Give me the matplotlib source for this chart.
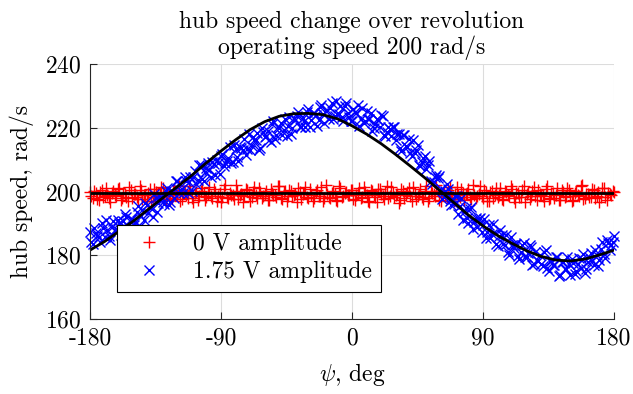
import matplotlib
matplotlib.use("Agg")
import matplotlib.pyplot as plt
import numpy as np

plt.rcParams['font.family'] = ['cmr10', 'DejaVu Serif']
plt.rcParams['mathtext.fontset'] = 'cm'
plt.rcParams['axes.formatter.use_mathtext'] = True

# azimuth of each sample, deg: two passes, even and odd degrees
psi_a = np.arange(-180, 181, 2)
psi_b = np.arange(-179, 180, 2)

# 0 V amplitude, hub speed rad/s
speed_0v_a = [
    199.9, 198.0, 199.4, 197.4, 200.6, 198.6, 198.9, 196.8, 200.2, 198.7,
    201.0, 198.1, 199.2, 197.1, 200.4, 199.3, 198.3, 201.6, 197.7, 198.9,
    199.6, 197.0, 200.7, 198.5, 199.1, 201.0, 197.5, 199.5, 198.0, 200.5,
    198.8, 196.9, 200.0, 199.0, 201.8, 197.9, 199.4, 197.3, 200.3, 199.2,
    198.2, 201.4, 197.8, 199.7, 198.7, 196.7, 200.9, 198.4, 199.5, 198.9,
    202.0, 197.5, 199.2, 198.6, 200.5, 197.0, 199.8, 198.8, 201.1, 198.0,
    199.2, 197.2, 200.8, 199.0, 198.3, 201.7, 197.6, 200.1, 198.5, 200.2,
    199.0, 196.6, 199.9, 199.3, 201.5, 197.8, 198.9, 198.1, 200.6, 198.7,
    197.1, 202.0, 198.4, 199.6, 199.1, 197.0, 201.1, 198.6, 199.9, 199.0,
    200.4, 197.4, 199.4, 197.9, 201.3, 198.8, 196.8, 200.2, 198.2, 200.7,
    199.3, 197.7, 201.7, 198.7, 199.5, 198.9, 196.5, 200.8, 198.1, 199.8,
    198.7, 201.3, 197.6, 199.3, 198.4, 200.3, 197.0, 199.7, 199.1, 201.9,
    197.3, 199.2, 198.5, 200.5, 198.8, 197.1, 201.5, 198.2, 199.6, 199.1,
    200.9, 197.5, 198.9, 198.6, 201.6, 197.9, 199.9, 196.9, 200.2, 199.0,
    198.4, 201.2, 197.3, 199.8, 198.7, 200.8, 196.7, 199.4, 198.3, 201.6,
    199.2, 197.6, 200.1, 198.7, 200.5, 199.0, 197.0, 201.8, 198.0, 199.6,
    198.8, 197.4, 200.6, 198.4, 201.0, 199.3, 197.2, 200.0, 198.6, 201.9,
    197.8, 199.1, 198.2, 200.4, 198.7, 196.8, 201.2, 198.3, 199.5, 198.9,
    199.8,
]
speed_0v_b = [
    198.6, 200.3, 197.5, 199.8, 198.2, 201.2, 197.9, 199.4, 198.8, 200.9,
    197.2, 199.6, 198.4, 201.5, 198.0, 199.1, 197.6, 200.4, 198.9, 196.9,
    200.7, 198.3, 199.7, 197.8, 201.3, 198.5, 199.2, 197.3, 200.1, 198.9,
    201.7, 197.7, 199.5, 198.1, 200.6, 196.8, 199.9, 198.6, 201.0, 197.4,
    199.3, 198.7, 200.8, 197.1, 199.6, 198.3, 201.9, 198.0, 199.0, 197.5,
    200.3, 198.8, 196.7, 200.9, 199.2, 198.2, 201.4, 197.9, 199.7, 198.5,
    200.0, 197.3, 199.4, 198.9, 201.6, 198.1, 199.8, 197.0, 200.5, 198.6,
    199.1, 201.1, 197.6, 199.5, 198.3, 200.7, 196.9, 199.9, 198.7, 201.3,
    197.8, 199.3, 198.0, 200.2, 197.2, 201.8, 198.4, 199.6, 198.8, 200.6,
    197.5, 199.0, 201.2, 198.2, 199.7, 197.1, 200.4, 198.9, 196.6, 200.9,
    198.6, 199.8, 197.9, 201.5, 198.3, 199.2, 197.4, 200.1, 198.8, 201.0,
    197.0, 199.5, 198.5, 200.7, 197.7, 201.7, 198.1, 199.4, 198.7, 200.3,
    196.9, 199.9, 198.2, 201.4, 197.6, 199.1, 198.9, 200.8, 197.3, 199.6,
    198.4, 202.0, 197.8, 199.3, 198.6, 200.5, 197.1, 199.7, 198.0, 201.1,
    199.0, 197.5, 200.2, 198.8, 201.6, 197.9, 199.4, 198.3, 200.6, 196.8,
    199.8, 198.5, 201.3, 197.4, 199.2, 198.7, 200.9, 197.7, 199.5, 198.1,
    201.0, 197.2, 199.9, 198.6, 200.4, 197.0, 199.6, 198.9, 201.8, 197.6,
    199.1, 198.4, 200.7, 197.8, 199.7, 198.2, 201.2, 197.3, 199.3, 200.1,
]

# 1.75 V amplitude, hub speed rad/s
speed_175v_a = [
    187.3, 183.5, 186.9, 185.8, 190.2, 185.8, 188.0, 184.9, 190.6, 188.2,
    190.1, 186.7, 192.9, 189.3, 191.4, 189.5, 193.7, 189.2, 194.2, 196.4,
    193.1, 194.8, 199.1, 193.7, 198.2, 196.7, 200.1, 195.7, 200.0, 198.0,
    203.2, 200.5, 199.5, 203.3, 203.0, 200.2, 206.5, 203.6, 208.3, 203.4,
    207.3, 206.8, 209.4, 205.1, 209.0, 211.1, 208.0, 209.5, 214.0, 209.1,
    213.4, 209.5, 213.5, 216.4, 213.4, 212.9, 217.2, 216.0, 213.1, 219.8,
    217.1, 219.1, 215.6, 222.0, 217.6, 220.0, 217.7, 222.6, 220.6, 218.1,
    223.0, 223.8, 220.3, 223.2, 220.1, 226.0, 222.4, 224.6, 220.6, 226.6,
    224.2, 225.3, 222.7, 227.7, 223.6, 224.4, 226.7, 222.0, 227.8, 223.5,
    222.1, 224.8, 227.0, 222.7, 221.6, 225.2, 222.8, 219.0, 221.3, 222.5,
    223.9, 217.6, 218.6, 219.6, 220.2, 216.0, 218.0, 212.7, 217.8, 214.1,
    212.1, 216.0, 213.0, 208.2, 209.1, 211.0, 208.3, 203.2, 202.9, 205.2,
    204.8, 197.6, 200.0, 200.7, 195.9, 196.0, 198.7, 195.5, 191.2, 194.8,
    190.2, 195.0, 190.4, 188.8, 191.8, 189.5, 185.4, 189.5, 186.7, 187.0,
    183.0, 188.0, 183.4, 186.4, 180.2, 183.1, 183.5, 179.8, 180.9, 183.7,
    179.4, 183.2, 176.9, 181.1, 178.3, 177.2, 181.1, 175.9, 178.3, 177.0,
    179.4, 173.6, 177.8, 175.8, 179.6, 173.9, 177.5, 175.1, 179.1, 178.8,
    174.5, 177.9, 180.8, 176.8, 180.0, 178.5, 184.2, 179.1, 183.9, 183.2,
    186.1,
]
speed_175v_b = [
    184.2, 188.7, 186.1, 184.0, 188.5, 191.0, 185.9, 188.9, 187.6, 191.2,
    186.2, 190.7, 192.1, 188.4, 191.5, 190.5, 195.4, 192.3, 191.0, 195.7,
    195.2, 192.0, 198.1, 196.4, 198.2, 196.0, 201.2, 196.7, 199.9, 203.3,
    199.6, 200.9, 204.4, 199.6, 204.5, 204.5, 202.4, 208.2, 204.0, 206.1,
    208.8, 204.5, 208.6, 209.9, 205.5, 211.8, 209.0, 210.6, 208.9, 214.6,
    210.9, 214.0, 212.9, 211.4, 218.1, 214.2, 216.3, 218.5, 213.6, 218.7,
    217.4, 216.2, 221.2, 216.4, 220.2, 221.4, 219.3, 217.5, 223.3, 220.0,
    222.3, 225.0, 220.3, 222.2, 224.8, 220.3, 224.7, 224.0, 222.4, 227.0,
    221.5, 225.5, 226.2, 222.6, 228.3, 224.4, 223.4, 226.9, 224.5, 222.0,
    226.0, 224.5, 220.5, 226.3, 222.2, 222.8, 224.7, 219.9, 222.7, 220.3,
    223.8, 217.4, 220.2, 217.3, 220.3, 217.9, 213.5, 217.6, 214.4, 216.5,
    211.2, 212.1, 214.5, 208.0, 210.5, 207.2, 209.5, 202.5, 204.6, 204.2,
    200.8, 198.3, 202.4, 197.1, 197.6, 198.5, 192.9, 197.8, 193.6, 191.8,
    194.4, 188.1, 191.7, 191.4, 187.4, 191.4, 187.2, 185.5, 189.9, 183.4,
    185.9, 186.5, 183.3, 180.9, 185.7, 182.4, 183.4, 178.7, 183.3, 179.3,
    180.6, 182.7, 177.2, 178.5, 180.2, 176.5, 181.5, 175.2, 178.3, 177.0,
    179.5, 173.9, 178.0, 175.6, 177.3, 178.7, 174.1, 177.4, 175.9, 180.5,
    175.7, 179.3, 178.3, 181.6, 176.5, 182.1, 180.5, 184.9, 181.5, 184.1,
]

# fitted curves (black lines)
fit_psi = np.arange(-180, 181, 10)
fit_175v = [
    181.6, 184.3, 187.5, 190.8, 194.4, 198.0, 201.5, 205.1, 209.0, 212.7,
    216.2, 219.4, 221.9, 223.6, 224.4, 224.5, 224.1, 222.8, 220.6, 218.0,
    215.0, 211.6, 208.0, 204.3, 200.4, 196.5, 192.6, 189.2, 186.2, 183.7,
    181.4, 179.6, 178.5, 178.2, 178.8, 180.1, 181.6,
]
fit_0v_psi = [-180, 180]
fit_0v = [199.4, 199.4]

xticks = [-180, -90, 0, 90, 180]
xticklabels = ['-180', '-90', '0', '90', '180']
yticks = [160, 180, 200, 220, 240]

fig = plt.figure(figsize=(6.33, 3.94), dpi=100)
ax = fig.add_axes([0.1422, 0.1904, 0.8278, 0.6472])

red_style = dict(ls='none', marker='+', color='red', mec='red', ms=9, mew=1.0,
                 clip_on=False)
blue_style = dict(ls='none', marker='x', color='blue', mec='blue', ms=7, mew=1.0,
                  clip_on=False)
ax.plot(psi_a, speed_0v_a, label='0 V amplitude', **red_style)
ax.plot(psi_b, speed_0v_b, **red_style)
ax.plot(psi_a, speed_175v_a, label='1.75 V amplitude', **blue_style)
ax.plot(psi_b, speed_175v_b, **blue_style)
ax.plot(fit_0v_psi, fit_0v, color='black', lw=2.0)
ax.plot(fit_psi, fit_175v, color='black', lw=2.0)

ax.set_xlim(-180, 180)
ax.set_ylim(160, 240)
ax.set_xticks(xticks)
ax.set_xticklabels(xticklabels)
ax.set_yticks(yticks)
ax.tick_params(direction='in', length=5, width=0.8, colors='#262626',
               labelsize=17, pad=6, labelcolor='black')
ax.grid(True, color='#dcdcdc', lw=0.8)
ax.set_axisbelow(True)
for s in ['top', 'right']:
    ax.spines[s].set_visible(False)
for s in ['left', 'bottom']:
    ax.spines[s].set_color('#262626')
    ax.spines[s].set_linewidth(0.8)

ax.set_title('hub speed change over revolution\noperating speed 200 rad/s',
             fontsize=17, pad=7, linespacing=1.15)
ax.set_xlabel(r'$\psi$, deg', fontsize=17, labelpad=8)
ax.set_ylabel('hub speed, rad/s', fontsize=17, labelpad=8)

leg = ax.legend(loc='lower left', bbox_to_anchor=(0.051, 0.107), fontsize=17,
                frameon=True, fancybox=False, edgecolor='black',
                borderpad=0.35, labelspacing=0.25, handlelength=2.0,
                handletextpad=0.9, borderaxespad=0)
leg.get_frame().set_linewidth(0.8)
leg.get_frame().set_alpha(1)

fig.savefig('out.png', dpi=100)
